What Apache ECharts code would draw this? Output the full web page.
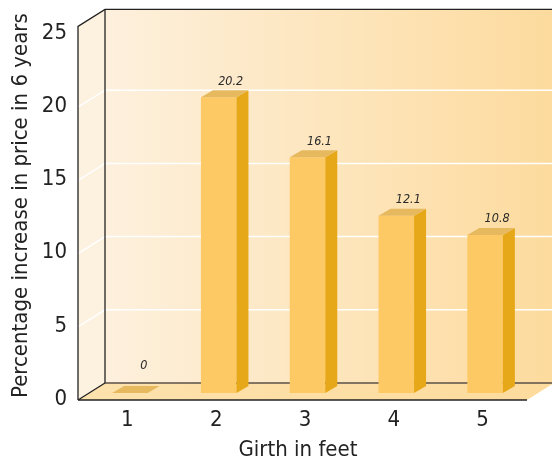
<!DOCTYPE html>
<html>
<head>
<meta charset="utf-8">
<script src="https://cdn.jsdelivr.net/npm/echarts@6/dist/echarts.min.js"></script>
<style>
  html, body { margin: 0; padding: 0; background: #ffffff; }
  #chart { width: 552px; height: 464px; }
</style>
</head>
<body>
<div id="chart"></div>
<script>
// Girth of the tree (feet) and the price rise over six years (%)
const girthFeet = ['1', '2', '3', '4', '5'];
const priceIncrease = [0, 20.2, 16.1, 12.1, 10.8];
const yTicks = [0, 5, 10, 15, 20, 25];

const FONT = "'DejaVu Sans Condensed', 'DejaVu Sans', sans-serif";

// Box depth (full floor/wall depth) and bar depth, in pixels
const DEPTH = [27, -17];
const BAR_DEPTH = [12, -7];
const BAR_SHIFT = [2.5, -6];
const WALL_TOP = 25.45;

const chart = echarts.init(document.getElementById('chart'), null, { renderer: 'canvas' });

function renderBox(params, api) {
  const cs = params.coordSys;
  const L = cs.x - 5;
  const R = cs.x + cs.width;
  const W = api.getWidth();
  const yBot = api.coord([0, 0])[1] + 1;
  const yTop = api.coord([0, WALL_TOP])[1];
  const dx = DEPTH[0], dy = DEPTH[1];
  const children = [];

  // back wall
  children.push({
    type: 'rect',
    shape: { x: L + dx, y: yTop + dy, width: W - (L + dx), height: yBot - yTop },
    style: {
      fill: new echarts.graphic.LinearGradient(0, 0, 1, 0, [
        { offset: 0, color: '#fdf0dd' },
        { offset: 1, color: '#fddb9e' }
      ])
    }
  });
  // left wall
  children.push({
    type: 'polygon',
    shape: { points: [[L, yTop], [L + dx, yTop + dy], [L + dx, yBot + dy], [L, yBot]] },
    style: { fill: '#fdf1e0' }
  });
  // grid lines on the walls
  yTicks.forEach(function (v) {
    if (v === 0 || v === 25) return;
    const y = api.coord([0, v])[1] + 1;
    children.push({
      type: 'polyline',
      shape: { points: [[L, y], [L + dx, y + dy], [W, y + dy]] },
      style: { stroke: '#ffffff', lineWidth: 1.5, fill: null }
    });
  });
  // floor
  children.push({
    type: 'polygon',
    shape: { points: [[L, yBot], [R, yBot], [R + dx, yBot + dy], [L + dx, yBot + dy]] },
    style: {
      fill: new echarts.graphic.LinearGradient(0, 0, 1, 0, [
        { offset: 0, color: '#fde2ad' },
        { offset: 1, color: '#fddb9d' }
      ])
    }
  });
  // edges
  children.push({
    type: 'line',
    shape: { x1: L + dx, y1: yBot + dy, x2: W, y2: yBot + dy },
    style: { stroke: '#5a5048', lineWidth: 1.3 }
  });
  children.push({
    type: 'polyline',
    shape: { points: [[L, yBot], [L, yTop], [L + dx, yTop + dy], [W, yTop + dy]] },
    style: { stroke: '#222222', lineWidth: 1.3, fill: null }
  });
  children.push({
    type: 'line',
    shape: { x1: L + dx, y1: yTop + dy, x2: L + dx, y2: yBot + dy },
    style: { stroke: '#222222', lineWidth: 1.3 }
  });
  children.push({
    type: 'line',
    shape: { x1: L, y1: yBot, x2: L + dx, y2: yBot + dy },
    style: { stroke: '#222222', lineWidth: 1.3 }
  });
  children.push({
    type: 'line',
    shape: { x1: L, y1: yBot, x2: R, y2: yBot },
    style: { stroke: '#222222', lineWidth: 1.3 }
  });
  return { type: 'group', children: children };
}

function renderBar(params, api) {
  const i = api.value(0);
  const v = api.value(1);
  const base = api.coord([i, 0]);
  const top = api.coord([i, v]);
  const w = api.size([1, 0])[0] * 0.4;
  const cx = base[0] + BAR_SHIFT[0];
  const x0 = cx - w / 2, x1 = cx + w / 2;
  const yb = base[1] + BAR_SHIFT[1];
  const yt = top[1] + BAR_SHIFT[1];
  const bx = BAR_DEPTH[0], by = BAR_DEPTH[1];
  const children = [];
  if (yb - yt > 0.5) {
    children.push({
      type: 'rect',
      shape: { x: x0, y: yt, width: w, height: yb - yt },
      style: { fill: '#fdc964' }
    });
    children.push({
      type: 'polygon',
      shape: { points: [[x1, yt], [x1 + bx, yt + by], [x1 + bx, yb + by], [x1, yb]] },
      style: { fill: '#e6a818' }
    });
  }
  children.push({
    type: 'polygon',
    shape: { points: [[x0, yt], [x0 + bx, yt + by], [x1 + bx, yt + by], [x1, yt]] },
    style: { fill: '#e6b95f' }
  });
  // flat bars get their label lifted clear of the floor
  const lift = v === 0 ? 27 : 16;
  children.push({
    type: 'text',
    x: cx + 12 + (v === 0 ? 2 : 0),
    y: yt - lift,
    style: {
      text: String(v),
      fill: '#2a2a2a',
      font: 'italic 12.5px ' + FONT,
      align: 'center',
      verticalAlign: 'middle'
    }
  });
  return { type: 'group', children: children };
}

chart.setOption({
  animation: false,
  backgroundColor: '#ffffff',
  grid: { left: 83, right: 25, top: 33, bottom: 65 },
  xAxis: {
    type: 'category',
    data: girthFeet,
    axisLine: { show: false },
    axisTick: { show: false },
    axisLabel: { color: '#222222', fontFamily: FONT, fontSize: 22, margin: 10 }
  },
  yAxis: {
    type: 'value',
    min: 0,
    max: 25,
    interval: 5,
    axisLine: { show: false },
    axisTick: { show: false },
    splitLine: { show: false },
    axisLabel: { color: '#222222', fontFamily: FONT, fontSize: 22, margin: 16 }
  },
  graphic: [
    {
      type: 'text',
      style: {
        text: 'Percentage increase in price in 6 years',
        fill: '#222222',
        font: '22px ' + FONT
      },
      rotation: Math.PI / 2,
      originX: 0,
      originY: 0,
      x: 10, y: 398
    },
    {
      type: 'text',
      x: 298,
      y: 450,
      style: {
        text: 'Girth in feet',
        fill: '#222222',
        font: '22px ' + FONT,
        align: 'center',
        verticalAlign: 'middle'
      }
    }
  ],
  series: [
    {
      type: 'custom',
      silent: true,
      z: 1,
      data: [[0, 0]],
      renderItem: renderBox
    },
    {
      type: 'custom',
      z: 3,
      data: priceIncrease.map(function (v, i) { return [i, v]; }),
      renderItem: renderBar
    }
  ]
});
</script>
</body>
</html>
